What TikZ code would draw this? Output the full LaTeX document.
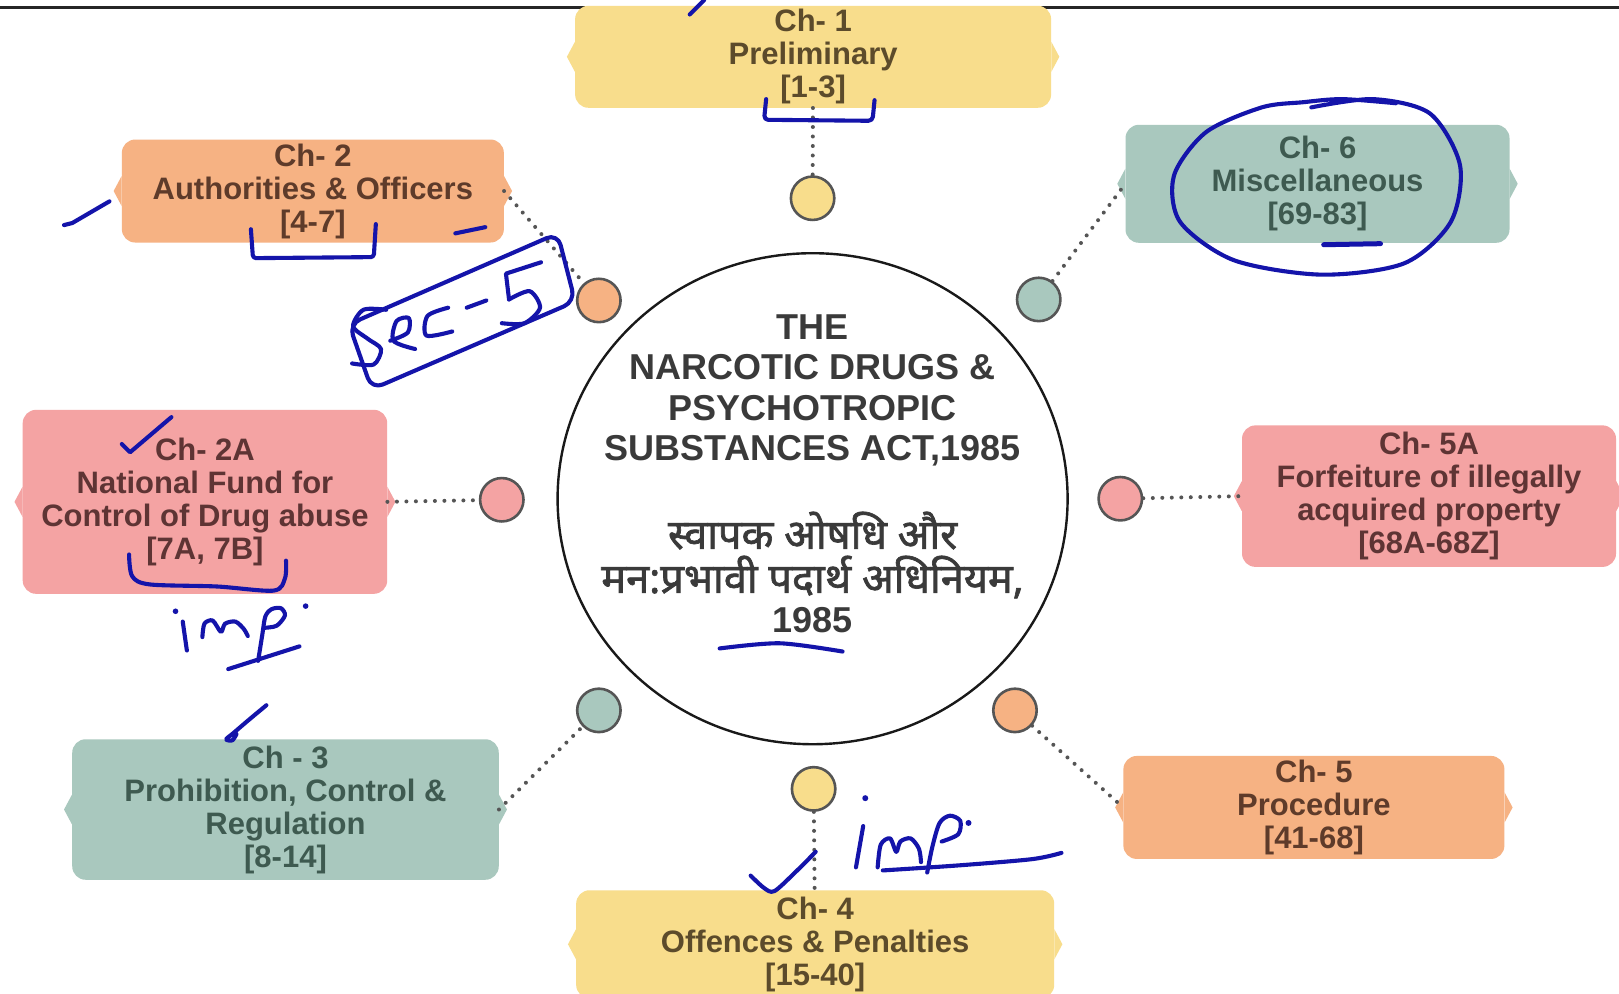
\documentclass[tikz,border=0pt]{standalone}
\usepackage{fontspec}
\setmainfont{Liberation Sans}
\newfontfamily\hindi[Script=Devanagari, FakeBold=1.6]{Noto Sans}
\usetikzlibrary{shapes.geometric}
\definecolor{cyel}{HTML}{F8DD8C}
\definecolor{cora}{HTML}{F6B283}
\definecolor{cteal}{HTML}{A9C8BE}
\definecolor{cpink}{HTML}{F4A3A3}
\definecolor{tyel}{HTML}{5C4B2B}
\definecolor{tora}{HTML}{5E3B2A}
\definecolor{tteal}{HTML}{3E5A50}
\definecolor{tpink}{HTML}{5E3434}
\definecolor{tmain}{HTML}{3A3A3A}
\definecolor{inkc}{HTML}{1414AA}
\definecolor{ringc}{HTML}{555555}
\tikzset{
  chbox/.style={rounded corners=13.4pt, align=center, font=\bfseries\fontsize{31}{33}\selectfont, inner sep=0pt},
  dotc/.style={circle, minimum size=43.4pt, inner sep=0pt, draw=ringc, line width=2.6pt},
  dotline/.style={draw=ringc, line width=4pt, line cap=round, dash pattern=on 0pt off 9.5pt},
  ink/.style={draw=inkc, line width=4.1pt, line cap=round, line join=round},
}
\begin{document}
\begin{tikzpicture}[x=1.0325pt, y=-1.0325pt]
\useasboundingbox (0,0) rectangle (1568,962);
\clip (0,0) rectangle (1568,962);
\fill[white] (0,0) rectangle (1568,962);
\draw[line width=3pt, black!85] (0,7) -- (1568,7);

% chapter boxes
\node[chbox, fill=cyel, text=tyel, minimum width=476pt, minimum height=102pt] (ch1) at (787.5,55) {Ch- 1\\Preliminary\\{[1-3]}};
\node[chbox, fill=cora, text=tora, minimum width=382pt, minimum height=103pt] (ch2) at (303,185) {Ch- 2\\Authorities \& Officers\\{[4-7]}};
\node[chbox, fill=cteal, text=tteal, minimum width=384pt, minimum height=118pt] (ch6) at (1276,178) {Ch- 6\\Miscellaneous\\{[69-83]}};
\node[chbox, fill=cpink, text=tpink, minimum width=364.5pt, minimum height=184pt] (ch2a) at (198.5,486) {Ch- 2A\\National Fund for\\Control of Drug abuse\\{[7A, 7B]}};
\node[chbox, fill=cpink, text=tpink, minimum width=374pt, minimum height=141.5pt] (ch5a) at (1384,480.5) {Ch- 5A\\Forfeiture of illegally\\acquired property\\{[68A-68Z]}};
\node[chbox, fill=cteal, text=tteal, minimum width=426.5pt, minimum height=140.5pt] (ch3) at (276.5,784) {Ch - 3\\Prohibition, Control \&\\Regulation\\{[8-14]}};
\node[chbox, fill=cyel, text=tyel, minimum width=478pt, minimum height=108pt] (ch4) at (789.5,914.5) {Ch- 4\\Offences \& Penalties\\{[15-40]}};
\node[chbox, fill=cora, text=tora, minimum width=381pt, minimum height=103pt] (ch5) at (1272.5,782) {Ch- 5\\Procedure\\{[41-68]}};

% side notches
\foreach \n/\c in {ch1/cyel, ch2/cora, ch6/cteal, ch2a/cpink, ch5a/cpink, ch3/cteal, ch4/cyel, ch5/cora}{
  \fill[\c] ([yshift=15pt]\n.west) -- ([xshift=-8pt]\n.west) -- ([yshift=-15pt]\n.west) -- cycle;
  \fill[\c] ([yshift=15pt]\n.east) -- ([xshift=8pt]\n.east) -- ([yshift=-15pt]\n.east) -- cycle;
}

% small circles
\node[dotc, fill=cyel] (c1) at (787,192) {};
\node[dotc, fill=cora] (c2) at (580,291) {};
\node[dotc, fill=cteal] (c6) at (1006,290) {};
\node[dotc, fill=cpink] (c2a) at (486,484) {};
\node[dotc, fill=cpink] (c5a) at (1085,483) {};
\node[dotc, fill=cteal] (c3) at (580,688) {};
\node[dotc, fill=cyel] (c4) at (788,764) {};
\node[dotc, fill=cora] (c5) at (983,688) {};

% dotted connectors
\draw[dotline] (ch1) -- (c1);
\draw[dotline] (ch2.east) -- (c2);
\draw[dotline] (c6) -- (ch6.west);
\draw[dotline] (ch2a.east) -- (c2a);
\draw[dotline] (c5a) -- (ch5a.west);
\draw[dotline] (ch3.east) -- (c3);
\draw[dotline] (c4) -- (ch4);
\draw[dotline] (c5) -- (ch5.west);

% central circle
\node[ellipse, draw=black!90, line width=2.4pt, minimum width=510pt, minimum height=491pt, inner sep=0pt] (main) at (787,483) {};
\node[font=\bfseries\fontsize{36}{40.3}\selectfont, text=tmain, align=center] (eng) at (787,378) {THE\\NARCOTIC DRUGS \&\\PSYCHOTROPIC\\SUBSTANCES ACT,1985};
\node[font=\hindi\fontsize{41.5}{44}\selectfont, text=tmain, align=center] (hin) at (787,537.5) {स्वापक ओषधि और\\मन:प्रभावी पदार्थ अधिनियम,};
\node[font=\bfseries\fontsize{36}{40}\selectfont, text=tmain] (yr) at (787,601) {1985};

% handwritten ink
\draw[ink] (668,14) -- (682,0);
\draw[ink, rounded corners=4pt] (742,96) -- (740,116) -- (845,117) -- (847,97);
\draw[ink] (62,218) -- (70,216) -- (106,195);
\draw[ink, rounded corners=3pt] (243,222) -- (245,250) -- (362,249) -- (364,217);
\draw[ink] (441,226) -- (470,220);
\draw[ink, rounded corners=12pt] (338,314) -- (540,226) -- (557,292) -- (360,377) -- cycle;
\draw[ink] plot[smooth] coordinates {(374,300) (352,300) (342,316) (356,328) (369,338) (362,353) (341,352)};
\draw[ink] plot[smooth] coordinates {(378,330) (395,322) (396,308) (384,311) (381,330) (402,338)};
\draw[ink] plot[smooth] coordinates {(434,298) (414,306) (413,325) (438,321)};
\draw[ink] (452,298) -- (471,291);
\draw[ink] plot coordinates {(524,254) (490,265) (493,290)};
\draw[ink] plot[smooth] coordinates {(493,290) (513,282) (523,298) (508,313) (486,313)};
\draw[ink] plot[smooth] coordinates {(1270,104) (1330,96) (1385,110) (1414,160) (1405,215) (1360,255) (1280,266) (1195,252) (1143,215) (1137,170) (1168,128) (1222,104) (1262,99) (1300,96) (1352,100)};
\draw[ink, line width=5pt] (1282,237) -- (1337,236);
\draw[ink] (118,430) -- (126,438) -- (166,404);
\draw[ink] plot[smooth] coordinates {(125,537) (128,558) (145,566) (210,568) (265,572) (276,560) (277,543)};
\fill[inkc] (170,592) circle (2.8pt);
\draw[ink] (177,602) -- (181,630);
\draw[ink] plot[smooth] coordinates {(196,617) (198,604) (206,601) (214,612) (218,604) (228,602) (236,609) (240,616)};
\draw[ink] plot[smooth] coordinates {(250,640) (254,615) (257,597) (263,590) (272,589) (276,596) (268,606) (256,608)};
\fill[inkc] (296,587) circle (2.8pt);
\draw[ink] (221,648) -- (290,626);
\draw[ink] plot[smooth] coordinates {(258,683) (240,698) (226,710) (219,716) (225,717) (229,711)};
\draw[ink] plot[smooth] coordinates {(697,628) (755,623) (816,631)};
\draw[ink] plot[smooth] coordinates {(727,848) (740,860) (750,863) (770,845) (790,825)};
\fill[inkc] (838,773) circle (3pt);
\draw[ink] (836,800) -- (829,840);
\draw[ink] plot[smooth] coordinates {(850,840) (853,818) (862,812) (868,825) (872,815) (882,812) (890,822) (892,835)};
\draw[ink] plot[smooth] coordinates {(898,845) (903,820) (910,797) (920,790) (930,795) (928,808) (912,815)};
\fill[inkc] (938,797) circle (3pt);
\draw[ink] plot[smooth] coordinates {(855,843) (930,838) (1000,832) (1028,826)};
\end{tikzpicture}
\end{document}
